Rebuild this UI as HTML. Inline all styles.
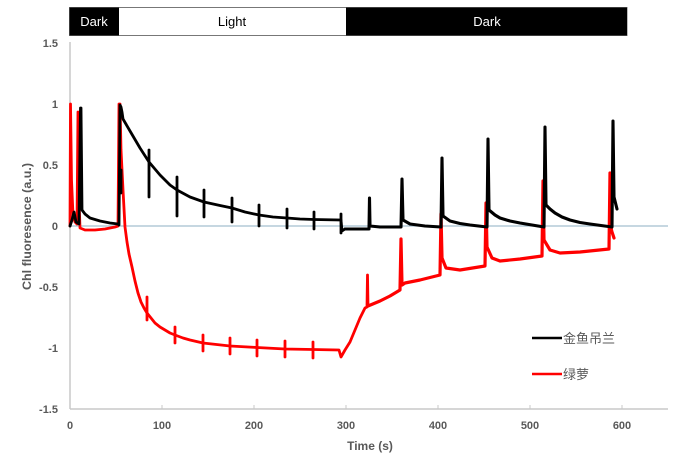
<!DOCTYPE html>
<html><head><meta charset="utf-8"><style>
html,body{margin:0;padding:0;background:#fff;}
svg{display:block;}
</style></head><body>
<svg width="700" height="460" viewBox="0 0 700 460" xmlns="http://www.w3.org/2000/svg">
<rect width="700" height="460" fill="#fff"/>
<!-- top bar -->
<rect x="69.5" y="7.5" width="557.5" height="28" fill="#fff" stroke="#777" stroke-width="1"/>
<rect x="69.5" y="7.5" width="49.5" height="28" fill="#000"/>
<rect x="346" y="7.5" width="281" height="28" fill="#000"/>
<g font-family="Liberation Sans, sans-serif" font-size="13" text-anchor="middle">
<text x="94" y="26" fill="#fff">Dark</text>
<text x="232" y="26" fill="#000">Light</text>
<text x="487" y="26" fill="#fff">Dark</text>
</g>
<!-- axes -->
<line x1="70" y1="42" x2="70" y2="409" stroke="#c8c8c8" stroke-width="1.5"/>
<line x1="70" y1="409" x2="668" y2="409" stroke="#c8c8c8" stroke-width="1.5"/>
<line x1="70" y1="226" x2="668" y2="226" stroke="#a3bfcf" stroke-width="1.3"/>
<g stroke="#c8c8c8" stroke-width="1">
<line x1="162" y1="405" x2="162" y2="409"/>
<line x1="254" y1="405" x2="254" y2="409"/>
<line x1="346" y1="405" x2="346" y2="409"/>
<line x1="438" y1="405" x2="438" y2="409"/>
<line x1="530" y1="405" x2="530" y2="409"/>
<line x1="622" y1="405" x2="622" y2="409"/>
</g>
<g font-family="Liberation Sans, sans-serif" font-size="11" font-weight="bold" fill="#595959" text-anchor="end">
<text x="58" y="47">1.5</text>
<text x="58" y="108">1</text>
<text x="58" y="169">0.5</text>
<text x="58" y="230">0</text>
<text x="58" y="291">-0.5</text>
<text x="58" y="352">-1</text>
<text x="58" y="413">-1.5</text>
</g>
<g font-family="Liberation Sans, sans-serif" font-size="11" font-weight="bold" fill="#595959" text-anchor="middle">
<text x="70" y="429">0</text>
<text x="162" y="429">100</text>
<text x="254" y="429">200</text>
<text x="346" y="429">300</text>
<text x="438" y="429">400</text>
<text x="530" y="429">500</text>
<text x="622" y="429">600</text>
<text x="370" y="450" font-size="12">Time (s)</text>
</g>
<text transform="translate(31,226.5) rotate(-90)" font-family="Liberation Sans, sans-serif" font-size="12" font-weight="bold" fill="#595959" text-anchor="middle" textLength="127" lengthAdjust="spacingAndGlyphs">Chl fluoresence (a.u.)</text>

<!-- red series -->
<g fill="none" stroke="#ff0000" stroke-width="2.8" stroke-linejoin="round" stroke-linecap="round">
<path d="M70,226 L70.5,104 L71.5,180 L73,215 L75,222 L77,224 L78,112 L79,200 L80,228 L85,230 L95,230 L105,229 L115,227 L118,226 L119,104 L120,104 L121,150 L123,190 L125,227 L127,242 L129,254 L132,267 L135,281 L138,293 L141,302 L144,308 L147,313 L151,318 L155,323 L160,327 L165,330 L170,333 L175,335 L183,338 L190,340 L203,343 L230,346 L257,347.5 L285,349 L313,349.5 L339,350 L341,357 L345,350 L350,342 L355,330 L360,318 L365,308 L367,307 L367.5,275 L368,306"/>
<path stroke-width="3.2" d="M368,306 L380,301 L390,296 L400,290 L401,239 L402,285 L405,283 L420,280 L440,275 L441,214 L442,258 L446,268 L460,270 L485,266 L486,203 L487,247 L492,258 L500,261 L520,259 L542,256 L543,181 L544,240 L550,250 L560,253 L580,252 L609,249 L610,173 L611,228 L612,232 L614,238"/>
<path d="M147,297 V320 M175,327 V343 M203,335 V351 M230,338 V354 M257,340 V356 M285,341 V357 M313,342 V358"/>
</g>
<!-- black series -->
<g fill="none" stroke="#000" stroke-width="2.8" stroke-linejoin="round" stroke-linecap="round">
<path d="M70,226 L72,220 L74,212 L76,222 L79,224 L80.5,108 L81,108 L82,210 L85,214 L90,218 L100,221 L110,223 L118,224 L119,225 L120,105 L121,107 L122,112 L123,119 L130,131 L140,148 L149,162 L160,175 L170,185 L177,190 L190,197 L204,202 L220,205.5 L232,208 L245,212 L259,215 L273,217 L287,218 L300,219 L314,219.5 L341,220 L342,231 L345,229"/>
<path stroke-width="3.1" d="M345,229 L369,229 L369.5,198 L370,226 L380,227 L401,227 L402,179 L403,220 L410,224 L425,226 L441,227 L442,158 L443,216 L450,221 L460,223.5 L470,225 L487,227 L488,139 L489,210 L495,215 L500,218 L510,221 L520,223 L544,227 L545,127 L546,205 L550,209 L555,213 L562,217 L570,220 L580,222.5 L590,224 L612,227 L613,121 L614,197 L617,209"/>
<path d="M121,170 V193 M149,150 V197 M177,177 V216 M204,190 V217 M232,198 V222 M259,205 V226 M287,209 V228 M314,212 V229 M341,214 V233"/>
</g>
<!-- legend -->
<line x1="532" y1="338" x2="562" y2="338" stroke="#000" stroke-width="2.6"/>
<line x1="532" y1="374" x2="562" y2="374" stroke="#ff0000" stroke-width="2.6"/>
<g font-family="Liberation Sans, 'Noto Sans CJK SC', sans-serif" font-size="13" fill="#595959">
<text x="563" y="343">金鱼吊兰</text>
<text x="563" y="379">绿萝</text>
</g>
</svg>
</body></html>
